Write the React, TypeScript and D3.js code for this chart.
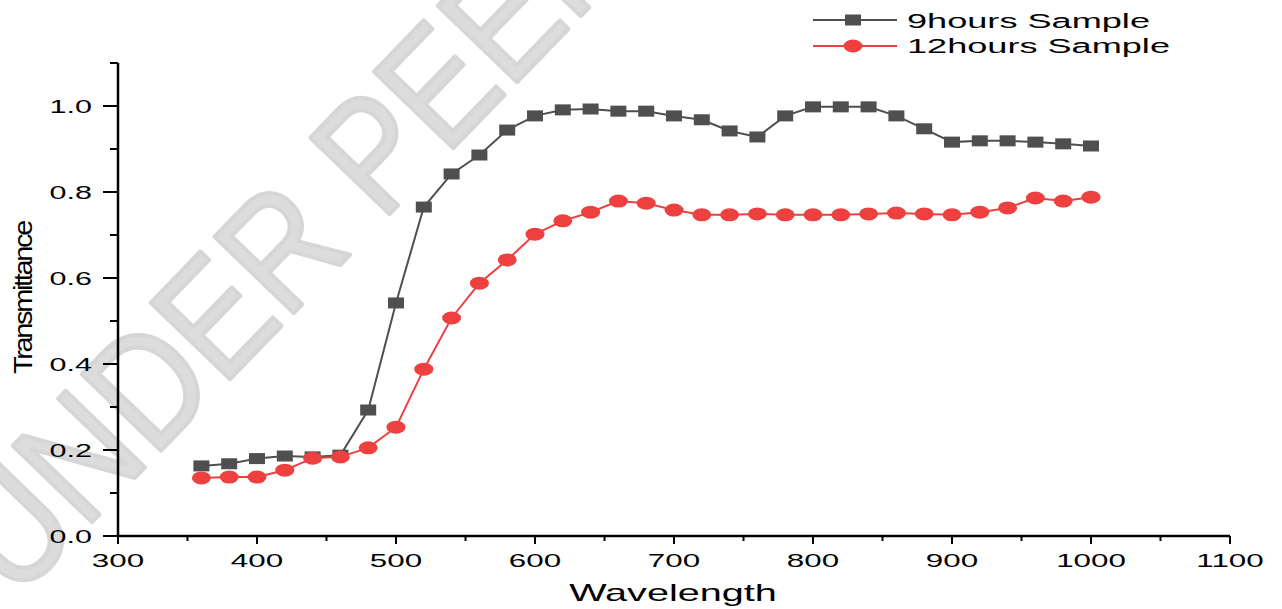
import React from "react";
import * as d3 from "d3";

const wavelengths = [360, 380, 400, 420, 440, 460, 480, 500, 520, 540, 560, 580, 600, 620, 640, 660, 680, 700, 720, 740, 760, 780, 800, 820, 840, 860, 880, 900, 920, 940, 960, 980, 1000];
const sample9h = [0.163, 0.168, 0.18, 0.186, 0.184, 0.188, 0.293, 0.542, 0.765, 0.842, 0.886, 0.944, 0.977, 0.991, 0.993, 0.988, 0.988, 0.977, 0.968, 0.942, 0.928, 0.977, 0.998, 0.998, 0.998, 0.977, 0.947, 0.916, 0.919, 0.919, 0.916, 0.912, 0.907];
const sample12h = [0.135, 0.137, 0.137, 0.153, 0.181, 0.184, 0.205, 0.253, 0.388, 0.507, 0.588, 0.642, 0.702, 0.733, 0.753, 0.779, 0.774, 0.758, 0.747, 0.747, 0.749, 0.747, 0.747, 0.747, 0.749, 0.751, 0.749, 0.747, 0.753, 0.763, 0.786, 0.779, 0.788];
const xMajorTicks = [300, 400, 500, 600, 700, 800, 900, 1000, 1100];
const xMinorTicks = [350, 450, 550, 650, 750, 850, 950, 1050];
const yMajorTicks = [0, 0.2, 0.4, 0.6, 0.8, 1.0];
const yMinorTicks = [0.1, 0.3, 0.5, 0.7, 0.9, 1.1];
const seriesNames = ["9hours Sample", "12hours Sample"];
const xTitle = "Wavelength";
const yTitle = "Transmittance";
const watermark = "UNDER PEER REVIEW";

const GRAY = "#4f4f4f";
const RED = "#ef4040";
const FONT = "'Liberation Sans', Arial, sans-serif";
const SX = 1.65;

export default function App() {
  const x = d3.scaleLinear().domain([300, 1100]).range([118, 1230]);
  const y = d3.scaleLinear().domain([0, 1.1]).range([536, 63]);
  const line = d3
    .line<number>()
    .x((_, i) => x(wavelengths[i]))
    .y((d) => y(d));

  const fmt = d3.format(".1f");

  return (
    <svg
      width={1282}
      height={609}
      style={{ position: "absolute", left: 0, top: 0, background: "#fff" }}
      fontFamily={FONT}
    >
      {/* watermark */}
      <g transform="translate(15,602) rotate(-46) scale(0.86,1)">
        <text
          x={0}
          y={0}
          fontSize={160}
          fill="#dcdcdc"
          stroke="#d6d6d6"
          strokeWidth={4}
          strokeLinejoin="round"
          fontFamily={FONT}
        >
          {watermark}
        </text>
      </g>

      {/* axes */}
      <g stroke="#000" strokeWidth={2.5} fill="none">
        <line x1={x(300)} x2={x(1100)} y1={y(0)} y2={y(0)} />
        <line x1={x(300)} x2={x(300)} y1={y(0)} y2={y(1.1)} />
        {xMajorTicks.map((t) => (
          <line key={"xm" + t} x1={x(t)} x2={x(t)} y1={y(0)} y2={y(0) + 8} strokeWidth={2} />
        ))}
        {xMinorTicks.map((t) => (
          <line key={"xn" + t} x1={x(t)} x2={x(t)} y1={y(0)} y2={y(0) + 5} strokeWidth={2} />
        ))}
        {yMajorTicks.map((t) => (
          <line key={"ym" + t} x1={x(300) - 15} x2={x(300)} y1={y(t)} y2={y(t)} strokeWidth={2} />
        ))}
        {yMinorTicks.map((t) => (
          <line key={"yn" + t} x1={x(300) - 8} x2={x(300)} y1={y(t)} y2={y(t)} strokeWidth={2} />
        ))}
      </g>

      {/* tick labels */}
      {xMajorTicks.map((t) => (
        <text
          key={"xl" + t}
          transform={`translate(${x(t)},567) scale(${SX},1)`}
          textAnchor="middle"
          fontSize={19}
          fill="#000"
        >
          {t}
        </text>
      ))}
      {yMajorTicks.map((t) => (
        <text
          key={"yl" + t}
          transform={`translate(92,${y(t) + 6.7}) scale(${SX},1)`}
          textAnchor="end"
          fontSize={18.5}
          fill="#000"
        >
          {fmt(t)}
        </text>
      ))}

      {/* axis titles */}
      <text
        transform={`translate(${(x(300) + x(1100)) / 2 - 1},601) scale(${SX},1)`}
        textAnchor="middle"
        fontSize={24}
        fill="#000"
      >
        {xTitle}
      </text>
      <text
        transform="translate(32,298) rotate(-90)"
        textAnchor="middle"
        fontSize={25}
        fill="#000"
        textLength={152}
        lengthAdjust="spacingAndGlyphs"
        letterSpacing={-2}
      >
        {yTitle}
      </text>

      {/* series */}
      <path d={line(sample9h) || ""} fill="none" stroke={GRAY} strokeWidth={2} />
      <path d={line(sample12h) || ""} fill="none" stroke={RED} strokeWidth={2} />
      {sample9h.map((v, i) => (
        <rect
          key={"s" + i}
          x={x(wavelengths[i]) - 8}
          y={y(v) - 5.5}
          width={16}
          height={11}
          fill={GRAY}
        />
      ))}
      {sample12h.map((v, i) => (
        <ellipse key={"c" + i} cx={x(wavelengths[i])} cy={y(v)} rx={9.5} ry={6.5} fill={RED} />
      ))}

      {/* legend */}
      <g>
        <line x1={813} x2={897} y1={20} y2={20} stroke={GRAY} strokeWidth={2} />
        <rect x={845} y={14.5} width={16} height={11} fill={GRAY} />
        <text
          x={907}
          y={28}
          fontSize={20}
          textLength={243}
          lengthAdjust="spacingAndGlyphs"
          fill="#000"
        >
          {seriesNames[0]}
        </text>
        <line x1={813} x2={897} y1={46} y2={46} stroke={RED} strokeWidth={2} />
        <ellipse cx={853} cy={46} rx={9.5} ry={6.5} fill={RED} />
        <text
          x={907}
          y={53}
          fontSize={20}
          textLength={263}
          lengthAdjust="spacingAndGlyphs"
          fill="#000"
        >
          {seriesNames[1]}
        </text>
      </g>
    </svg>
  );
}
